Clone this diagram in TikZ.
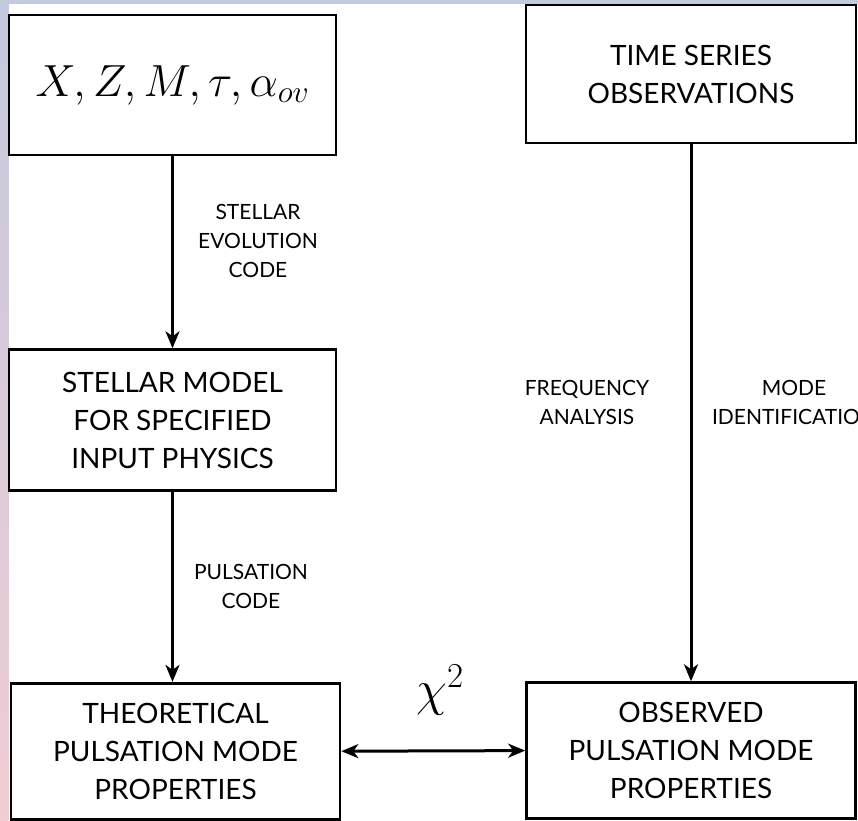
\RequirePackage{fix-cm}
\documentclass[tikz,border=0pt]{standalone}
\usepackage{fontspec}
\setmainfont{Lato}
\usepackage{amsmath}
\usetikzlibrary{arrows.meta,positioning,calc}
\definecolor{bgTop}{HTML}{C3C9DE}
\definecolor{bgBot}{HTML}{F1CDD4}
\tikzset{
  stepbox/.style={
    draw, line width=2.6pt, minimum width=327pt, minimum height=138pt,
    align=center, font=\fontsize{28}{38}\selectfont, inner sep=0pt
  },
  codetag/.style={align=center, font=\fontsize{21}{29}\selectfont, inner sep=0pt},
  flow/.style={-{Stealth[length=17pt,width=14pt,inset=5pt]}, line width=3pt},
  match/.style={{Stealth[length=17pt,width=14pt,inset=5pt]}-{Stealth[length=17pt,width=14pt,inset=5pt]}, line width=3pt}
}

\begin{document}
\begin{tikzpicture}[x=1pt,y=1pt]
  \useasboundingbox (0,0) rectangle (858,-820);
  \clip (0,0) rectangle (858,-820);
  % backdrop strips
  \shade[top color=bgTop, bottom color=bgBot] (0,0) rectangle (8.5,-820);
  \fill[bgTop] (0,0) rectangle (858,-3.5);

  % left column
  \node[stepbox, minimum height=140pt, font=\fontsize{45}{45}\selectfont] (params) at (172.5,-85) {$X, Z, M, \tau, \alpha_{ov}$};
  \node[stepbox, minimum height=141pt, below=192pt of params] (model) {STELLAR MODEL\\FOR SPECIFIED\\INPUT PHYSICS};
  \node[stepbox, minimum width=329pt, minimum height=136pt, below=190pt of model, xshift=3pt] (theo) {THEORETICAL\\PULSATION MODE\\PROPERTIES};

  % right column
  \node[stepbox, minimum width=330pt] (series) at (691,-74) {TIME SERIES\\OBSERVATIONS};
  \node[stepbox, minimum width=329pt, minimum height=136pt, below=537pt of series] (observed) {OBSERVED\\PULSATION MODE\\PROPERTIES};

  \draw[flow] (params.south) -- (model.north);
  \draw[flow] (model.south) -- (model.south |- theo.north);
  \draw[flow] (series.south) -- (observed.north);
  \draw[match] (theo.east) -- (observed.west);

  % labels
  \node[codetag] (evocode) at (258,-241) {STELLAR\\EVOLUTION\\CODE};
  \node[codetag] (pulscode) at (251,-586) {PULSATION\\CODE};
  \node[codetag] (freq) at (587,-402) {FREQUENCY\\ANALYSIS};
  \node[codetag] (modeid) at (794,-402) {MODE\\IDENTIFICATION};
  \node[font=\fontsize{50}{50}\selectfont, inner sep=0pt] (chisq) at (440,-690) {$\chi^2$};
\end{tikzpicture}
\end{document}
